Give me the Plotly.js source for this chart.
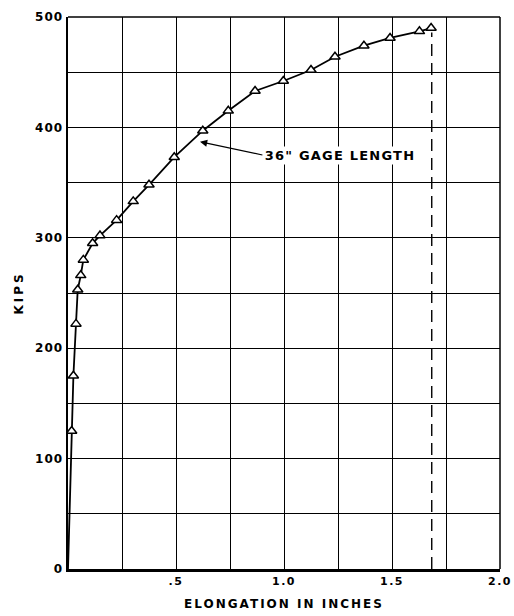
<!DOCTYPE html>
<html>
<head>
<meta charset="utf-8">
<script src="https://cdn.plot.ly/plotly-3.0.1.min.js"></script>
<style>
html,body{margin:0;padding:0;background:#fff;}
#chart{width:514px;height:616px;}
#chart .xtitle{letter-spacing:2px;}
#chart .ytitle{letter-spacing:3px;}
#chart .annotation-text{letter-spacing:1.2px;}
#chart .ytick text{letter-spacing:1px;}
#chart .xtick text{letter-spacing:1.5px;}
</style>
</head>
<body>
<div id="chart"></div>
<script>
// Elongation (inches) vs load (kips), 36" gage length
const elongation = [0.017, 0.025, 0.037, 0.045, 0.059, 0.071, 0.114, 0.148, 0.225, 0.302, 0.375, 0.492, 0.624, 0.742, 0.866, 0.997, 1.125, 1.236, 1.370, 1.491, 1.627, 1.681];
const kips       = [125, 175, 222, 253, 266, 280, 295, 302, 316, 333, 348, 373, 397, 415, 433, 442, 452, 464, 474, 481, 487, 490];
const originX = [0];
const originY = [0];
const ruptureX = [1.684, 1.684];
const ruptureY = [0, 486];
const xTickVals = [0, 0.25, 0.5, 0.75, 1.0, 1.25, 1.5, 1.75, 2.0];
const xTickText = ['', '', '.5', '', '1.0', '', '1.5', '', '2.0'];
const yTickVals = [0, 50, 100, 150, 200, 250, 300, 350, 400, 450, 500];
const yTickText = ['0', '', '100', '', '200', '', '300', '', '400', '', '500'];
const annotationText = '36" GAGE LENGTH';

const font = 'DejaVu Sans, Arial, sans-serif';

const traces = [
  {
    x: originX.concat(elongation),
    y: originY.concat(kips),
    mode: 'lines',
    line: {color: '#000', width: 1.8},
    hoverinfo: 'skip',
    showlegend: false
  },
  {
    x: ruptureX, y: ruptureY,
    mode: 'lines',
    line: {color: '#000', width: 1.4, dash: '12px,7px'},
    showlegend: false
  },
  {
    x: elongation,
    y: kips,
    mode: 'markers',
    marker: {symbol: 'triangle-up', size: 9, color: '#fff', line: {color: '#000', width: 1.5}},
    showlegend: false
  }
];

const layout = {
  width: 514, height: 616,
  margin: {l: 68, r: 14, t: 17, b: 47},
  paper_bgcolor: '#fff', plot_bgcolor: '#fff',
  font: {family: font, color: '#000', size: 12},
  xaxis: {
    range: [0, 2.0],
    tickmode: 'array', tickvals: xTickVals, ticktext: xTickText,
    ticks: '', ticklen: 0,
    showgrid: true, gridcolor: '#000', gridwidth: 1,
    zeroline: false,
    showline: true, linecolor: '#000', linewidth: 2.5, mirror: false,
    tickfont: {family: font, size: 11, color: '#000', weight: 'bold'},
    title: {text: 'ELONGATION IN INCHES', standoff: 13, font: {family: font, size: 12, color: '#000', weight: 'bold'}},
    fixedrange: true
  },
  yaxis: {
    range: [0, 500],
    tickmode: 'array', tickvals: yTickVals, ticktext: yTickText,
    ticks: '', ticklen: 0,
    showgrid: true, gridcolor: '#000', gridwidth: 1,
    zeroline: false,
    showline: true, linecolor: '#000', linewidth: 2.5,
    tickfont: {family: font, size: 12, color: '#000', weight: 'bold'},
    title: {text: 'KIPS', standoff: 12, font: {family: font, size: 12, color: '#000', weight: 'bold'}},
    fixedrange: true
  },
  shapes: [
    {type: 'line', xref: 'paper', yref: 'paper', x0: 0, x1: 1, y0: 1, y1: 1, line: {color: '#000', width: 1.5}},
    {type: 'line', xref: 'paper', yref: 'paper', x0: 1, x1: 1, y0: 0, y1: 1, line: {color: '#000', width: 1.5}}
  ],
  annotations: [
    {
      x: 0.611, y: 387, xref: 'x', yref: 'y',
      ax: 0.9, ay: 375, axref: 'x', ayref: 'y',
      text: annotationText, xanchor: 'left', yanchor: 'middle',
      width: 152, align: 'center',
      showarrow: true, arrowhead: 2, arrowsize: 1.2, arrowwidth: 1.2, arrowcolor: '#000',
      font: {family: font, size: 13, color: '#000', weight: 'bold'},
      bgcolor: '#fff'
    }
  ]
};

Plotly.newPlot('chart', traces, layout, {displayModeBar: false, staticPlot: true});
</script>
</body>
</html>
